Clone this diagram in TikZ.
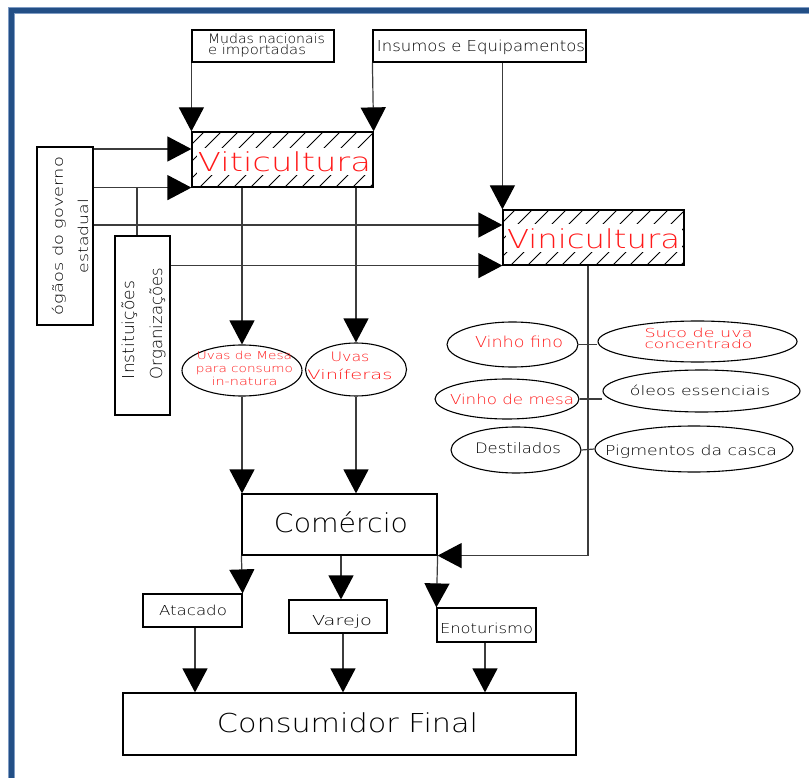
\documentclass[tikz,border=0pt]{standalone}
\usepackage{fontspec}
\IfFontExistsTF{DejaVu Sans ExtraLight}{\setmainfont{DejaVu Sans ExtraLight}}{%
  \IfFontExistsTF{Lato Light}{\setmainfont{Lato Light}}{\setmainfont{DejaVu Sans}}}
\usetikzlibrary{arrows.meta,shapes.geometric,calc}
\definecolor{frameblue}{HTML}{234F86}
\definecolor{framelight}{HTML}{7F9CC4}
\definecolor{cadred}{HTML}{FF1A1A}
\definecolor{wire}{HTML}{3C3C3C}
\newcommand\tx[3]{\resizebox{#1pt}{#2pt}{\raisebox{0pt}[\fontcharht\font`H][0pt]{#3}}}
\begin{document}
\begin{tikzpicture}[x=1pt,y=-1pt,
  cbox/.style={draw=black, line width=1.2pt, rectangle, inner sep=0pt, fill=white},
  ell/.style={draw=black, line width=1.1pt, ellipse, inner sep=0pt},
  lbl/.style={inner sep=0pt, outer sep=0pt, text=black},
  rlbl/.style={lbl, text=cadred},
  wirestyle/.style={draw=wire, line width=1.2pt},
  arr/.style={wirestyle, -{Triangle[length=24pt,width=25pt,color=black]}},
  hatchln/.style={draw=black, line width=0.9pt},
]
\fill[white] (0,0) rectangle (809,778);
\useasboundingbox (0,0) rectangle (809,778);
% frame
\fill[framelight] (8,7) rectangle (809,14);
\fill[framelight] (8,7) rectangle (15,778);
\fill[frameblue] (9,8) rectangle (809,13);
\fill[frameblue] (9,8) rectangle (14,778);

% helper coordinates
\coordinate (y149) at (0,149);
\coordinate (y225) at (0,225);
\coordinate (x137) at (137,0);
\coordinate (x588) at (588,0);
\coordinate (x341) at (341,0);
\coordinate (x195) at (195,0);
\coordinate (x343) at (343,0);
\coordinate (x485) at (485,0);

% boxes
\node[cbox, minimum width=142pt, minimum height=32pt] (mud) at (263,46) {};
\node[cbox, minimum width=213pt, minimum height=32pt] (ins) at (479.5,46) {};
\node[cbox, minimum width=181pt, minimum height=55pt] (vit) at (282.5,159.5) {};
\node[cbox, minimum width=181pt, minimum height=55pt] (vin) at (593.5,237.5) {};
\node[cbox, minimum width=56pt, minimum height=178pt] (org) at (65,236) {};
\node[cbox, minimum width=55pt, minimum height=179pt] (inst) at (142.5,325.5) {};
\node[cbox, minimum width=195pt, minimum height=61pt] (com) at (339.5,524.5) {};
\node[cbox, minimum width=99pt, minimum height=33pt] (ata) at (192.5,610.5) {};
\node[cbox, minimum width=98pt, minimum height=33pt] (var) at (338,616.5) {};
\node[cbox, minimum width=99pt, minimum height=34pt] (eno) at (486.5,625) {};
\node[cbox, minimum width=453pt, minimum height=62pt] (cons) at (349.5,724) {};

% hatching
\begin{scope}
  \clip (vit.north west) rectangle (vit.south east);
  \foreach \i in {0,...,15} \draw[hatchln] ($(vit.south west)+(\i*17-60,0)$) -- ++(60,-60);
\end{scope}
\fill[white] (197,148) rectangle (372,175);
\draw[line width=1.2pt] (vit.north west) rectangle (vit.south east);
\begin{scope}
  \clip (vin.north west) rectangle (vin.south east);
  \foreach \i in {0,...,15} \draw[hatchln] ($(vin.south west)+(\i*17-60,0)$) -- ++(60,-60);
\end{scope}
\fill[white] (506,224) rectangle (682,252);
\draw[line width=1.2pt] (vin.north west) rectangle (vin.south east);

% ellipses
\node[ell, minimum width=120pt, minimum height=51pt] (uvm) at (242,370.5) {};
\node[ell, minimum width=101pt, minimum height=53pt] (uvv) at (356,369.5) {};
\node[ell, minimum width=131pt, minimum height=45pt] (vf) at (512.5,344.5) {};
\node[ell, minimum width=199pt, minimum height=41pt] (suco) at (697.5,341.5) {};
\node[ell, minimum width=144pt, minimum height=40pt] (vm) at (507,399) {};
\node[ell, minimum width=197pt, minimum height=42pt] (ol) at (701.5,391) {};
\node[ell, minimum width=130pt, minimum height=46pt] (dest) at (516,450) {};
\node[ell, minimum width=198pt, minimum height=46pt] (pig) at (694,449) {};

% texts
\node[lbl, align=left, anchor=north west, font=\fontsize{10}{11.5}\selectfont] (mudt) at (208,34) {\tx{117}{9.5}{Mudas nacionais}\\\tx{98}{9.5}{e importadas}};
\node[lbl] (inst1) at (481,46.5) {\tx{208}{11}{Insumos e Equipamentos}};
\node[rlbl] (vitt) at (284.5,162.5) {\tx{173}{19}{Viticultura}};
\node[rlbl] (vint) at (593.5,238.5) {\tx{173}{19}{Vinicultura}};
\node[lbl, rotate=90, align=center, font=\fontsize{10}{25}\selectfont] (orgt) at (70.5,236) {\tx{158}{10}{ógãos do governo}\\\tx{74}{10}{estadual}};
\node[lbl, rotate=90, align=left, font=\fontsize{10}{28}\selectfont] (instt) at (142,323.5) {\tx{98}{12}{Instituições}\\\tx{111}{12}{Organizações}};
\node[rlbl, align=center, font=\fontsize{10}{13}\selectfont] (uvmt) at (244.5,368) {\tx{95}{8}{Uvas de Mesa}\\\tx{97}{8}{para consumo}\\\tx{66}{8}{in-natura}};
\node[rlbl, align=center, font=\fontsize{10}{18}\selectfont] (uvvt) at (350,365.3) {\tx{39}{9.5}{Uvas}\\\tx{85}{9.5}{Viníferas}};
\node[rlbl] (vft) at (519,341.5) {\tx{88}{11}{Vinho fino}};
\node[rlbl, align=center, font=\fontsize{10}{10.5}\selectfont] (sucot) at (698.5,338.5) {\tx{108}{9}{Suco de uva}\\\tx{108}{8.5}{concentrado}};
\node[rlbl] (vmt) at (512,399) {\tx{124}{10}{Vinho de mesa}};
\node[lbl] (olt) at (700,390.5) {\tx{140}{9.5}{óleos essenciais}};
\node[lbl] (destt) at (518,448.5) {\tx{86}{10.5}{Destilados}};
\node[lbl] (pigt) at (691,450) {\tx{172}{10}{Pigmentos da casca}};
\node[lbl] (comt) at (341,523) {\tx{134}{19}{Comércio}};
\node[lbl] (atat) at (193,610) {\tx{68}{10}{Atacado}};
\node[lbl] (vart) at (342,620) {\tx{60}{10}{Varejo}};
\node[lbl] (enot) at (486.5,628) {\tx{93}{10}{Enoturismo}};
\node[lbl] (const) at (347.5,722.5) {\tx{261}{19}{Consumidor Final}};

% connectors
\draw[arr] (mud.south west) -- (vit.north west);
\draw[arr] (ins.south west) -- (vit.north east);
\draw[arr] (ins.south -| vin.north west) -- (vin.north west);
\draw[arr] (org.east |- y149) -- (vit.west |- y149);
\draw[arr] (org.east |- vit.south west) -- (vit.south west);
\draw[arr] (org.east |- y225) -- (vin.west |- y225);
\draw[arr] (inst.east |- vin.south west) -- (vin.south west);
\draw[wirestyle] (inst.north -| x137) -- (x137 |- vit.south west);
\draw[arr] (vit.south -| uvm.north) -- (uvm.north);
\draw[arr] (vit.south -| uvv.north) -- (uvv.north);
\draw[arr] (uvm.south) -- (uvm.south |- com.north);
\draw[arr] (uvv.south) -- (uvv.south |- com.north);
\draw[arr] (vin.south -| x588) |- (com.south east);
\draw[arr] (com.south west) -- (ata.north east);
\draw[arr] (com.south -| x341) -- (var.north -| x341);
\draw[arr] (com.south east) -- (eno.north west);
\draw[arr] (ata.south -| x195) -- (cons.north -| x195);
\draw[arr] (var.south -| x343) -- (cons.north -| x343);
\draw[arr] (eno.south -| x485) -- (cons.north -| x485);
\draw[wirestyle] (vf.east) -- (vf.east -| suco.west);
\draw[wirestyle] (vm.east) -- (vm.east -| ol.west);
\draw[wirestyle] (dest.east) -- (pig.west);
\end{tikzpicture}
\end{document}
